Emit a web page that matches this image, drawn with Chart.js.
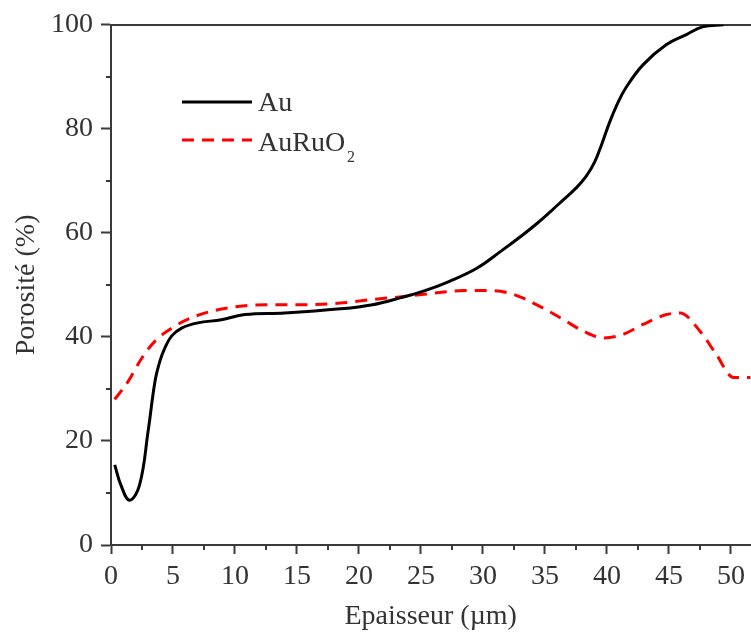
<!DOCTYPE html>
<html lang="fr">
<head>
    <meta charset="UTF-8">
    <title>Porosité</title>
    <style>
        body {
            margin: 0;
            background: #fff;
            overflow: hidden;
        }
        #chart {
            display: block;
        }
    </style>
    <script src="https://cdn.jsdelivr.net/npm/chart.js"></script>
</head>
<body>
    <canvas id="chart" width="751" height="643"></canvas>

    <script>
        // Au curve (epaisseur in um, porosite in %)
        const auX = [0.3, 0.8, 1.5, 2.3, 3.0, 3.55, 3.95, 4.35, 4.9, 5.7, 7.0, 8.9, 10.8, 14.0, 18.5, 21.1, 23.3, 25.2, 27.3, 29.5, 31.4, 33.2, 34.4, 35.4, 36.45, 37.5, 38.3, 39.0, 39.6, 40.2, 40.8, 41.5, 42.9, 44.8, 46.4, 47.7, 49.4];
        const auY = [15.4, 11.5, 8.6, 11.5, 22.0, 31.5, 35.4, 37.9, 40.2, 41.7, 42.7, 43.3, 44.3, 44.6, 45.4, 46.2, 47.5, 48.8, 50.7, 53.2, 56.4, 59.6, 61.9, 64.0, 66.3, 68.6, 70.8, 73.6, 77.2, 81.2, 84.6, 87.8, 92.3, 96.2, 98.1, 99.6, 100];

        // AuRuO2 curve
        const ruX = [0.3, 1.4, 2.5, 3.55, 4.9, 6.5, 8.4, 10.8, 13.5, 15.6, 18.5, 21.1, 23.8, 26.0, 28.4, 30.5, 32.0, 33.2, 34.8, 36.5, 38.1, 39.7, 41.3, 42.9, 44.8, 45.9, 47.5, 48.8, 50.2, 52.0];
        const ruY = [28.0, 31.5, 36.0, 39.2, 41.7, 43.7, 45.1, 46.0, 46.2, 46.2, 46.5, 47.2, 47.8, 48.4, 48.9, 48.9, 48.5, 47.5, 45.6, 43.3, 41.1, 39.8, 40.5, 42.4, 44.3, 44.6, 41.1, 36.7, 32.2, 32.2];

        const seriesNames = ['Au', 'AuRuO'];
        const xTicks = [0, 5, 10, 15, 20, 25, 30, 35, 40, 45, 50];
        const xMinor = [2.5, 7.5, 12.5, 17.5, 22.5, 27.5, 32.5, 37.5, 42.5, 47.5];
        const yTicks = [0, 20, 40, 60, 80, 100];
        const yMinor = [10, 30, 50, 70, 90];

        const axisColor = '#3a3a3a';
        const textColor = '#333';
        const serif = 'Liberation Serif, Times New Roman, serif';

        function toPoints(xs, ys) {
            return xs.map((x, i) => ({ x: x, y: ys[i] }));
        }

        // minor ticks, drawn through the scales
        const minorTicks = {
            id: 'minorTicks',
            afterDraw(chart) {
                const ctx = chart.ctx;
                const xs = chart.scales.x, ys = chart.scales.y;
                const area = chart.chartArea;
                ctx.save();
                ctx.strokeStyle = axisColor;
                ctx.lineWidth = 2;
                ctx.beginPath();
                xMinor.forEach(v => {
                    const px = Math.round(xs.getPixelForValue(v));
                    ctx.moveTo(px, area.bottom);
                    ctx.lineTo(px, area.bottom + 5);
                });
                yMinor.forEach(v => {
                    const py = Math.round(ys.getPixelForValue(v));
                    ctx.moveTo(area.left - 5, py);
                    ctx.lineTo(area.left, py);
                });
                ctx.stroke();
                ctx.restore();
            }
        };

        // legend in the upper left corner of the plot
        const insideLegend = {
            id: 'insideLegend',
            afterDraw(chart) {
                const ctx = chart.ctx;
                const rows = [
                    { y: 102, base: 111 },
                    { y: 140, base: 151 }
                ];
                ctx.save();
                chart.data.datasets.forEach((ds, i) => {
                    const r = rows[i];
                    ctx.strokeStyle = ds.borderColor;
                    ctx.lineWidth = 3;
                    ctx.setLineDash(ds.borderDash || []);
                    ctx.beginPath();
                    ctx.moveTo(182, r.y);
                    ctx.lineTo(252, r.y);
                    ctx.stroke();
                    ctx.setLineDash([]);
                    ctx.fillStyle = textColor;
                    ctx.font = '28px ' + serif;
                    ctx.textBaseline = 'alphabetic';
                    ctx.fillText(ds.label, 258, r.base);
                    if (i === 1) {
                        const w = ctx.measureText(ds.label).width;
                        ctx.font = '16px ' + serif;
                        ctx.fillText('2', 258 + w + 2, r.base + 11);
                    }
                });
                ctx.restore();
            }
        };

        new Chart(document.getElementById('chart'), {
            type: 'line',
            data: {
                datasets: [
                    {
                        label: seriesNames[0],
                        data: toPoints(auX, auY),
                        borderColor: '#000',
                        borderWidth: 3,
                        pointRadius: 0,
                        tension: 0.4,
                        fill: false
                    },
                    {
                        label: seriesNames[1],
                        data: toPoints(ruX, ruY),
                        borderColor: '#ff0000',
                        borderWidth: 3,
                        borderDash: [12, 8],
                        pointRadius: 0,
                        cubicInterpolationMode: 'monotone',
                        fill: false
                    }
                ]
            },
            options: {
                responsive: false,
                animation: false,
                devicePixelRatio: 1,
                layout: { padding: 0 },
                plugins: {
                    legend: { display: false },
                    tooltip: { enabled: false }
                },
                scales: {
                    x: {
                        type: 'linear',
                        position: 'bottom',
                        min: 0,
                        max: 51.57,
                        afterFit(scale) { scale.height = 98; },
                        afterBuildTicks(scale) { scale.ticks = xTicks.map(v => ({ value: v })); },
                        grid: {
                            drawOnChartArea: false,
                            drawTicks: true,
                            tickLength: 9,
                            tickWidth: 2,
                            tickColor: axisColor
                        },
                        border: { color: axisColor, width: 2 },
                        ticks: {
                            color: textColor,
                            padding: 6,
                            maxRotation: 0,
                            font: { family: serif, size: 28 }
                        },
                        title: {
                            display: true,
                            text: 'Epaisseur (µm)',
                            color: textColor,
                            padding: { top: 0, bottom: 10 },
                            font: { family: serif, size: 28 }
                        }
                    },
                    xTop: {
                        type: 'linear',
                        position: 'top',
                        min: 0,
                        max: 51.57,
                        afterFit(scale) { scale.height = 22; },
                        ticks: { display: false },
                        grid: { display: false },
                        border: { color: axisColor, width: 2 }
                    },
                    y: {
                        min: 0,
                        max: 100,
                        afterFit(scale) { scale.width = 111; },
                        afterBuildTicks(scale) { scale.ticks = yTicks.map(v => ({ value: v })); },
                        grid: {
                            drawOnChartArea: false,
                            drawTicks: true,
                            tickLength: 10,
                            tickWidth: 2,
                            tickColor: axisColor
                        },
                        border: { color: axisColor, width: 2 },
                        ticks: {
                            color: textColor,
                            padding: 8,
                            font: { family: serif, size: 28 }
                        },
                        title: {
                            display: true,
                            text: 'Porosité (%)',
                            color: textColor,
                            padding: { top: 10, bottom: 0 },
                            font: { family: serif, size: 28 }
                        }
                    }
                }
            },
            plugins: [minorTicks, insideLegend]
        });
    </script>
</body>
</html>
